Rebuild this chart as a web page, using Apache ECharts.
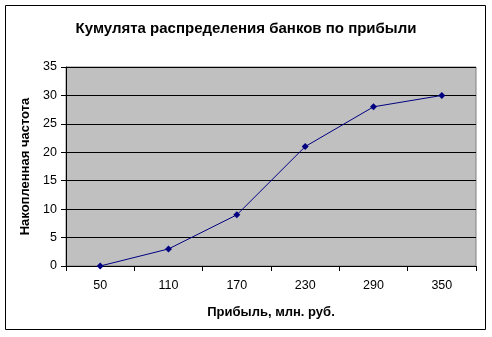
<!DOCTYPE html>
<html><head><meta charset="utf-8">
<script src="https://cdn.jsdelivr.net/npm/echarts@6/dist/echarts.min.js"></script>
<style>html,body{margin:0;padding:0;background:#fff}#c{width:492px;height:337px}</style>
</head><body><div id="c"></div>
<script>
const categories = ['50','110','170','230','290','350'];
const cumulative = [0, 3, 9, 21, 28, 30];
const chart = echarts.init(document.getElementById('c'), null, {renderer:'canvas'});
const F = '"Liberation Sans", Arial, sans-serif';
chart.setOption({
  animation: false,
  backgroundColor: '#fff',
  title: {
    text: 'Кумулята распределения банков по прибыли',
    left: 'center', top: 16,
    textStyle: {fontFamily: F, fontSize: 15, fontWeight: 'bold', color: '#000'}
  },
  graphic: [{
    type: 'rect', shape: {x: 5.5, y: 5.5, width: 480, height: 324},
    style: {fill: 'none', stroke: '#000', lineWidth: 1}, silent: true, z: 100
  }],
  grid: {left: 66, right: 16, top: 67, bottom: 71, show: true,
    backgroundColor: '#C0C0C0', borderColor: '#808080', borderWidth: 1},
  xAxis: {
    type: 'category', data: categories, boundaryGap: true,
    name: 'Прибыль, млн. руб.', nameLocation: 'middle', nameGap: 40,
    nameTextStyle: {fontFamily: F, fontSize: 13, fontWeight: 'bold', color: '#000'},
    axisLine: {lineStyle: {color: '#000', width: 1}},
    axisTick: {show: true, length: 5, lineStyle: {color: '#000'}},
    axisLabel: {fontFamily: F, fontSize: 12.5, color: '#000', margin: 13},
    splitLine: {show: false}
  },
  yAxis: {
    type: 'value', min: 0, max: 35, interval: 5,
    name: 'Накопленная частота', nameLocation: 'middle', nameGap: 30,
    nameTextStyle: {fontFamily: F, fontSize: 13, fontWeight: 'bold', color: '#000'},
    axisLine: {show: true, lineStyle: {color: '#000', width: 1}},
    axisTick: {show: true, length: 5, lineStyle: {color: '#000'}},
    axisLabel: {fontFamily: F, fontSize: 12.5, color: '#000', margin: 9},
    splitLine: {show: true, lineStyle: {color: '#000', width: 1}}
  },
  series: [{
    type: 'line', data: cumulative,
    lineStyle: {color: '#000080', width: 1},
    itemStyle: {color: '#000080'},
    symbol: 'diamond', symbolSize: 7
  }]
});
</script></body></html>
